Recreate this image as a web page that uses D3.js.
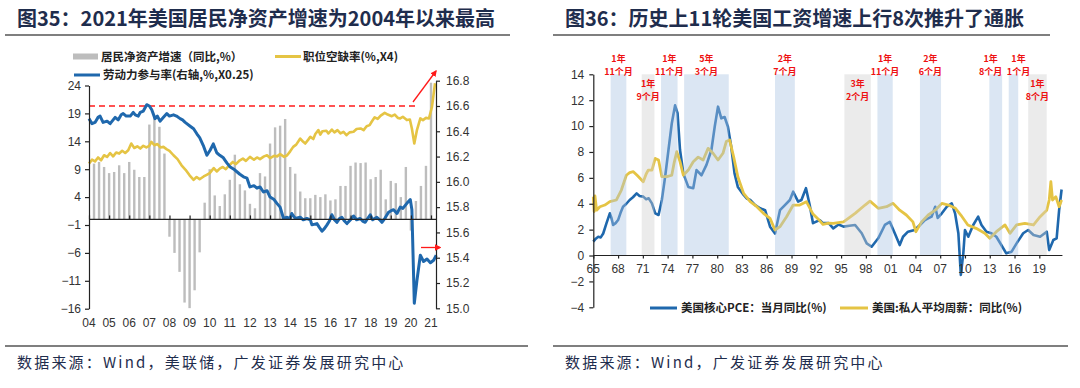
<!DOCTYPE html>
<html>
<head>
<meta charset="utf-8">
<script src="https://cdn.jsdelivr.net/npm/d3@7"></script>
<style>
  body { margin: 0; background: #fff; }
  svg { display: block; }
</style>
</head>
<body>
<svg id="chart" width="1080" height="388"></svg>
<script>
// ---------- left chart data (图35) ----------
// quarterly net worth growth, 2004Q1 .. 2020Q4 (%, yoy)
const netWorthGrowth = [
  10.0, 10.3, 9.4, 8.3, 8.5, 9.7, 8.3, 10.3, 8.9, 7.6, 7.6,
  17.0, 18.2, 16.6, 11.8,
  -3.1, -6.0, -9.4, -14.9, -15.9, -12.7, -5.9,
  3.0, 9.0, 4.3, 2.4, 4.5, 7.1, 11.6, 6.3, 5.2,
  2.8, 2.0, 8.3, 7.7, 13.6, 16.5, 16.8, 18.0,
  9.4, 8.2, 5.0, 3.8, 3.8, 4.4, 4.0, 4.5, 3.4, 3.6, 6.0, 6.0,
  9.6, 10.2, 10.1, 10.2, 7.2, 7.6, 8.9, 3.6, 6.9, 6.5, 4.0, 9.4,
  -2.0, 3.3, 6.0, 9.6, 24.5
];
const netWorthFirstQuarterEnd = 2004.25;

// job openings rate x4 (left axis) [year, value]
const vacancyX4 = [
  [2004.0, 10.0], [2004.15, 10.7], [2004.3, 10.4], [2004.45, 11.1], [2004.6, 10.6], [2004.75, 11.5],
  [2004.9, 11.2], [2005.05, 11.9], [2005.2, 11.3], [2005.35, 12.0], [2005.5, 11.8], [2005.65, 12.3],
  [2005.8, 11.9], [2005.95, 12.4], [2006.1, 13.6], [2006.25, 12.8], [2006.4, 13.1], [2006.55, 12.7],
  [2006.7, 13.2], [2006.85, 12.9], [2007.0, 13.2], [2007.1, 13.9], [2007.25, 13.3], [2007.4, 13.5],
  [2007.55, 12.9], [2007.7, 13.0], [2007.85, 12.6], [2008.0, 12.3], [2008.2, 11.5], [2008.4, 10.8],
  [2008.6, 9.7], [2008.8, 8.9], [2009.0, 7.9], [2009.2, 7.1], [2009.35, 7.6], [2009.5, 7.2],
  [2009.7, 7.7], [2009.85, 8.0], [2010.0, 8.3], [2010.2, 9.2], [2010.35, 8.6], [2010.5, 9.1],
  [2010.65, 9.4], [2010.8, 9.0], [2011.0, 9.8], [2011.15, 10.3], [2011.3, 9.9], [2011.5, 10.6],
  [2011.65, 10.9], [2011.8, 10.5], [2012.0, 11.2], [2012.2, 10.7], [2012.35, 11.1], [2012.5, 10.8],
  [2012.7, 11.3], [2012.85, 11.5], [2013.0, 11.0], [2013.2, 11.4], [2013.35, 11.3], [2013.5, 11.7],
  [2013.7, 11.2], [2013.85, 11.5], [2014.0, 12.2], [2014.15, 13.0], [2014.3, 13.4], [2014.5, 14.5],
  [2014.65, 13.9], [2014.75, 13.6], [2014.9, 14.3], [2015.0, 14.8], [2015.15, 14.4], [2015.25, 15.3],
  [2015.4, 16.0], [2015.5, 15.2], [2015.6, 15.8], [2015.8, 15.9], [2015.9, 15.4], [2016.07, 16.1],
  [2016.2, 15.6], [2016.35, 16.0], [2016.5, 15.4], [2016.65, 15.7], [2016.8, 15.1], [2016.95, 15.6],
  [2017.15, 15.7], [2017.3, 16.2], [2017.5, 16.3], [2017.65, 16.0], [2017.8, 16.7], [2017.95, 16.9],
  [2018.05, 17.5], [2018.2, 18.3], [2018.35, 18.0], [2018.5, 18.6], [2018.7, 19.1], [2018.85, 18.8],
  [2019.05, 18.5], [2019.2, 18.8], [2019.35, 18.2], [2019.47, 18.1], [2019.6, 18.4], [2019.8, 17.8],
  [2019.95, 17.9], [2020.05, 16.3], [2020.17, 13.6], [2020.3, 16.0], [2020.47, 18.1], [2020.6, 17.8],
  [2020.75, 18.2], [2020.9, 18.1], [2021.05, 20.2], [2021.2, 24.4]
];

// labour force participation rate x0.25 (right axis) [year, value]
const lfprX025 = [
  [2004.0, 16.50], [2004.15, 16.46], [2004.3, 16.47], [2004.45, 16.51], [2004.55, 16.52], [2004.7, 16.47],
  [2004.9, 16.48], [2005.05, 16.46], [2005.2, 16.49], [2005.3, 16.51], [2005.45, 16.49], [2005.6, 16.53],
  [2005.7, 16.54], [2005.85, 16.52], [2006.05, 16.52], [2006.2, 16.55], [2006.3, 16.53], [2006.45, 16.52],
  [2006.55, 16.55], [2006.7, 16.56], [2006.87, 16.61], [2007.0, 16.60], [2007.12, 16.57], [2007.28, 16.50],
  [2007.4, 16.52], [2007.53, 16.48], [2007.7, 16.51], [2007.87, 16.54], [2008.0, 16.52], [2008.2, 16.53],
  [2008.35, 16.52], [2008.53, 16.50], [2008.65, 16.49], [2008.78, 16.47], [2009.03, 16.44], [2009.2, 16.42],
  [2009.36, 16.38], [2009.5, 16.35], [2009.7, 16.28], [2009.86, 16.21], [2010.02, 16.25], [2010.18, 16.30],
  [2010.35, 16.23], [2010.5, 16.21], [2010.68, 16.19], [2010.85, 16.15], [2011.0, 16.12], [2011.2, 16.10],
  [2011.35, 16.08], [2011.5, 16.06], [2011.68, 16.04], [2011.85, 16.03], [2012.0, 15.96], [2012.2, 15.97],
  [2012.35, 15.95], [2012.5, 15.96], [2012.67, 15.92], [2012.85, 15.93], [2013.0, 15.88], [2013.2, 15.86],
  [2013.34, 15.83], [2013.5, 15.80], [2013.67, 15.71], [2013.85, 15.72], [2014.0, 15.71], [2014.08, 15.75],
  [2014.25, 15.71], [2014.5, 15.72], [2014.65, 15.70], [2014.83, 15.71], [2015.0, 15.70], [2015.08, 15.66],
  [2015.33, 15.67], [2015.45, 15.64], [2015.58, 15.61], [2015.7, 15.63], [2015.83, 15.66], [2015.95, 15.69],
  [2016.07, 15.74], [2016.2, 15.70], [2016.32, 15.68], [2016.45, 15.71], [2016.57, 15.72], [2016.7, 15.69],
  [2016.82, 15.67], [2017.0, 15.70], [2017.15, 15.73], [2017.3, 15.70], [2017.48, 15.71], [2017.6, 15.69],
  [2017.73, 15.68], [2017.85, 15.71], [2017.98, 15.74], [2018.1, 15.70], [2018.31, 15.72], [2018.45, 15.70],
  [2018.56, 15.68], [2018.7, 15.71], [2018.89, 15.76], [2019.0, 15.77], [2019.14, 15.78], [2019.31, 15.75],
  [2019.47, 15.80], [2019.6, 15.79], [2019.8, 15.83], [2019.97, 15.86], [2020.05, 15.78], [2020.17, 15.04],
  [2020.3, 15.22], [2020.47, 15.42], [2020.63, 15.37], [2020.8, 15.39], [2020.97, 15.36], [2021.13, 15.38],
  [2021.26, 15.42]
];

const leftYearTicks = [2004, 2005, 2006, 2007, 2008, 2009, 2010, 2011, 2012, 2013, 2014, 2015, 2016, 2017, 2018, 2019, 2020, 2021];
const leftYTicks = [24, 19, 14, 9, 4, -1, -6, -11, -16];
const rightYTicks = [16.8, 16.6, 16.4, 16.2, 16.0, 15.8, 15.6, 15.4, 15.2, 15.0];

// ---------- right chart data (图36) ----------
// US core PCE yoy (%) [year, value]
const corePce = [
  [1965.0, 1.07], [1965.3, 1.3], [1965.6, 1.45], [1965.9, 1.4], [1966.2, 1.7], [1966.6, 2.5], [1967.0, 3.26],
  [1967.2, 2.9], [1967.4, 2.36], [1967.7, 2.5], [1968.0, 2.74], [1968.3, 3.3], [1968.6, 3.77], [1969.0, 4.0],
  [1969.4, 4.29], [1969.8, 4.5], [1970.25, 4.8], [1970.6, 4.6], [1971.05, 4.55], [1971.4, 4.35], [1971.7, 4.42],
  [1972.1, 4.03], [1972.5, 3.26], [1972.9, 3.13], [1973.3, 4.29], [1973.7, 6.09], [1974.1, 8.15], [1974.5, 10.2],
  [1974.9, 11.6], [1975.2, 11.0], [1975.5, 8.15], [1975.9, 6.35], [1976.5, 5.3], [1977.1, 5.2], [1977.5, 6.6],
  [1978.1, 6.2], [1978.7, 7.0], [1979.3, 8.15], [1979.7, 9.95], [1980.1, 11.5], [1980.5, 10.6], [1980.9, 10.7],
  [1981.3, 9.95], [1981.7, 8.4], [1982.1, 6.35], [1982.5, 5.3], [1983.2, 4.68], [1983.6, 4.4], [1984.0, 4.29],
  [1984.6, 3.9], [1985.2, 3.65], [1985.8, 3.5], [1986.4, 2.23], [1987.0, 1.7], [1987.6, 3.5], [1988.2, 3.9],
  [1988.8, 4.29], [1989.2, 4.93], [1989.8, 4.16], [1990.2, 4.29], [1990.75, 5.2], [1991.2, 3.9], [1991.6, 2.5],
  [1992.4, 2.74], [1992.8, 2.5], [1993.5, 2.5], [1994.05, 2.1], [1994.7, 2.4], [1995.3, 2.23], [1996.0, 2.3],
  [1996.7, 2.36], [1997.5, 1.72], [1998.1, 0.94], [1998.7, 0.68], [1999.5, 1.33], [2000.3, 2.36], [2000.9, 2.6],
  [2001.5, 1.72], [2002.1, 0.81], [2002.5, 1.45], [2003.1, 1.84], [2003.9, 1.97], [2004.55, 2.36], [2005.15, 2.74],
  [2005.95, 3.0], [2006.4, 3.77], [2006.7, 2.9], [2007.2, 3.26], [2007.8, 3.77], [2008.4, 4.03], [2008.8, 3.26],
  [2009.2, 1.72], [2009.5, -1.5], [2009.8, 0.17], [2010.0, 1.97], [2010.4, 1.45], [2011.0, 2.36], [2011.6, 3.0],
  [2012.0, 2.36], [2012.6, 1.84], [2013.2, 1.72], [2013.8, 1.45], [2014.4, 0.81], [2015.0, 0.17], [2015.65, 0.3],
  [2016.25, 0.94], [2017.05, 1.72], [2017.65, 1.97], [2018.3, 1.58], [2019.1, 1.45], [2019.9, 1.84], [2020.2, 0.42],
  [2020.7, 1.2], [2021.1, 1.33], [2021.4, 3.5], [2021.7, 5.1]
];

// US private average weekly earnings yoy (%) [year, value]
const weeklyWage = [
  [1965.0, 4.55], [1965.1, 3.4], [1965.2, 4.6], [1965.4, 3.5], [1965.8, 3.77], [1966.4, 3.9], [1967.0, 4.16],
  [1967.8, 4.29], [1968.4, 5.06], [1969.0, 6.2], [1969.4, 6.4], [1969.85, 6.48], [1970.3, 6.2], [1970.65, 5.97],
  [1971.05, 5.7], [1971.4, 6.3], [1971.65, 6.6], [1972.1, 6.6], [1972.5, 7.5], [1972.9, 7.38], [1973.3, 6.09],
  [1973.9, 6.09], [1974.5, 6.2], [1974.8, 7.2], [1975.1, 8.02], [1975.5, 7.25], [1975.9, 6.2], [1976.5, 6.6],
  [1977.1, 7.25], [1977.7, 7.6], [1978.3, 7.38], [1978.9, 8.28], [1979.5, 7.9], [1980.1, 7.38], [1980.7, 7.9],
  [1981.1, 8.8], [1981.5, 8.93], [1982.0, 7.6], [1982.5, 6.09], [1983.2, 4.8], [1984.0, 4.16], [1984.8, 3.77],
  [1985.6, 3.26], [1986.4, 2.87], [1987.0, 1.97], [1987.6, 2.23], [1988.4, 3.0], [1989.2, 3.9], [1990.0, 3.9],
  [1990.8, 4.16], [1991.6, 3.2], [1992.4, 2.7], [1992.8, 2.4], [1993.5, 2.5], [1994.05, 2.49], [1995.3, 2.6],
  [1996.7, 3.26], [1997.9, 3.9], [1998.5, 4.2], [1999.5, 3.65], [2000.5, 3.77], [2001.3, 4.03], [2002.1, 3.5],
  [2002.9, 3.13], [2003.7, 2.6], [2004.05, 1.84], [2004.75, 2.6], [2005.55, 3.13], [2006.4, 3.5], [2007.2, 4.03],
  [2008.0, 3.9], [2008.85, 3.65], [2009.5, 3.13], [2010.35, 2.36], [2011.35, 2.1], [2012.4, 1.72], [2013.0, 1.33],
  [2013.8, 1.84], [2014.85, 2.36], [2015.45, 1.72], [2016.25, 2.36], [2017.25, 2.49], [2018.3, 2.36], [2019.1, 3.0],
  [2019.9, 3.5], [2020.2, 4.29], [2020.4, 5.7], [2020.6, 4.29], [2021.0, 4.55], [2021.4, 3.77], [2021.7, 4.29]
];

// wage up-cycles (shaded)
const cycleStart = [1967.1, 1970.86, 1973.2, 1976.0, 1987.0, 1995.4, 1999.4, 2004.55, 2012.95, 2015.3, 2017.66];
const cycleEnd   = [1969.0, 1972.4, 1975.2, 1981.4, 1989.4, 1998.6, 2001.25, 2007.1, 2014.5, 2016.45, 2019.9];
const cycleNoInflation = [false, true, false, false, false, true, false, false, false, false, true];
const cycleYears  = ["1年", "1年", "1年", "5年", "2年", "3年", "1年", "2年", "1年", "1年", "1年"];
const cycleMonths = ["11个月", "9个月", "11个月", "3个月", "7个月", "2个月", "11个月", "6个月", "8个月", "1个月", "8个月"];

const rightXTicks = [1965, 1968, 1971, 1974, 1977, 1980, 1983, 1986, 1989, 1992, 1995, 1998, 2001, 2004, 2007, 2010, 2013, 2016, 2019];
const rightYTicksR = [14, 12, 10, 8, 6, 4, 2, 0, -2, -4];

// ---------- shared styling ----------
const NUM_FONT = "'Liberation Sans', Arial, sans-serif";
const CJK_FONT = "'Noto Sans CJK SC', 'Noto Sans', sans-serif";
const TITLE_COLOR = "#1f2d4d";
const BLUE = "#1f68ad";
const GOLD = "#e5c444";

const svg = d3.select("#chart");
svg.append("rect").attr("width", 1080).attr("height", 388).attr("fill", "#fff");

function yearLabel(y) {
  return String(y % 100).padStart(2, "0");
}

function styleAxis(g) {
  g.selectAll("path, line").attr("stroke", "#222").attr("stroke-width", 1.2);
  g.selectAll("text").attr("font-family", NUM_FONT).attr("font-size", 12).attr("fill", "#333");
}

// header / footer for one panel
function drawFrame(x0, x1, title, source) {
  svg.append("text")
    .attr("x", x0 + 12).attr("y", 26)
    .attr("font-family", CJK_FONT).attr("font-weight", "bold")
    .attr("font-size", 20).attr("fill", TITLE_COLOR)
    .text(title);
  svg.append("line")
    .attr("x1", x0).attr("x2", x1).attr("y1", 35).attr("y2", 35)
    .attr("stroke", "#555").attr("stroke-width", 1.5);
  svg.append("line")
    .attr("x1", x0).attr("x2", x1 + 18).attr("y1", 346).attr("y2", 346)
    .attr("stroke", "#555").attr("stroke-width", 1.5);
  svg.append("text")
    .attr("x", x0 + 12).attr("y", 368)
    .attr("font-family", CJK_FONT).attr("font-size", 15)
    .attr("fill", TITLE_COLOR).attr("letter-spacing", 2.2)
    .text(source);
}

// ---------- left chart ----------
function drawLeft() {
  drawFrame(5, 510, "图35：2021年美国居民净资产增速为2004年以来最高", "数据来源：Wind，美联储，广发证券发展研究中心");

  const x = d3.scaleLinear().domain([2004, 2021]).range([89, 431]);
  const yL = d3.scaleLinear().domain([-16, 24]).range([308.7, 85.5]);
  const yR = d3.scaleLinear().domain([15.0, 16.8]).range([308.3, 80.7]);

  // bars
  svg.append("g").selectAll("rect")
    .data(netWorthGrowth)
    .enter()
    .append("rect")
    .attr("x", (d, i) => x(netWorthFirstQuarterEnd + i * 0.25) - 1.2)
    .attr("width", 2.4)
    .attr("y", d => yL(Math.max(0, d)))
    .attr("height", d => Math.abs(yL(d) - yL(0)))
    .attr("fill", "#bdbdbd");

  // red dashed reference
  svg.append("line")
    .attr("x1", x(2004)).attr("x2", 419)
    .attr("y1", yR(16.6)).attr("y2", yR(16.6))
    .attr("stroke", "#ff1a1a").attr("stroke-width", 1.3)
    .attr("stroke-dasharray", "6,4");

  const lineL = d3.line().x(d => x(d[0])).y(d => yL(d[1]));
  const lineR = d3.line().x(d => x(d[0])).y(d => yR(d[1]));

  svg.append("path").datum(vacancyX4)
    .attr("d", lineL).attr("fill", "none")
    .attr("stroke", GOLD).attr("stroke-width", 2.6).attr("stroke-linejoin", "round");

  svg.append("path").datum(lfprX025)
    .attr("d", lineR).attr("fill", "none")
    .attr("stroke", BLUE).attr("stroke-width", 3).attr("stroke-linejoin", "round");

  // axes
  const gy = svg.append("g").attr("transform", "translate(89,0)")
    .call(d3.axisLeft(yL).tickValues(leftYTicks).tickSize(4).tickSizeOuter(0).tickPadding(4));
  styleAxis(gy);

  const gr = svg.append("g").attr("transform", "translate(436,0)")
    .call(d3.axisRight(yR).tickValues(rightYTicks).tickSize(4).tickSizeOuter(0)
      .tickPadding(6).tickFormat(d3.format(".1f")));
  styleAxis(gr);

  const gx = svg.append("g").attr("transform", `translate(0,${yL(0)})`)
    .call(d3.axisTop(x).tickValues(leftYearTicks).tickSize(4).tickSizeOuter(0).tickFormat(""));
  styleAxis(gx);
  gx.select(".domain").attr("d", `M89,0H436`);

  svg.append("g").selectAll("text")
    .data(leftYearTicks)
    .enter()
    .append("text")
    .attr("x", d => x(d)).attr("y", 327)
    .attr("text-anchor", "middle")
    .attr("font-family", NUM_FONT).attr("font-size", 12).attr("fill", "#333")
    .text(yearLabel);

  // red arrows
  const defs = svg.append("defs");
  defs.append("marker")
    .attr("id", "redHead").attr("viewBox", "0 0 10 10")
    .attr("refX", 8).attr("refY", 5)
    .attr("markerWidth", 5).attr("markerHeight", 5)
    .attr("orient", "auto")
    .append("path").attr("d", "M0,0L10,5L0,10Z").attr("fill", "#ff1a1a");

  svg.append("line")
    .attr("x1", 413).attr("y1", 102).attr("x2", 436).attr("y2", 71)
    .attr("stroke", "#ff1a1a").attr("stroke-width", 1.3)
    .attr("marker-end", "url(#redHead)");
  svg.append("line")
    .attr("x1", 421).attr("y1", 247.5).attr("x2", 440).attr("y2", 247.5)
    .attr("stroke", "#ff1a1a").attr("stroke-width", 1.3)
    .attr("marker-end", "url(#redHead)");

  // legend
  const lg = svg.append("g")
    .attr("font-family", CJK_FONT).attr("font-size", 11.5)
    .attr("font-weight", "bold").attr("fill", "#222");
  lg.append("rect").attr("x", 73).attr("y", 53.5).attr("width", 25).attr("height", 6).attr("fill", "#bdbdbd");
  lg.append("text").attr("x", 101).attr("y", 60.5).text("居民净资产增速（同比,%）");
  lg.append("line").attr("x1", 275).attr("x2", 301).attr("y1", 56.5).attr("y2", 56.5)
    .attr("stroke", GOLD).attr("stroke-width", 3);
  lg.append("text").attr("x", 303).attr("y", 60.5).text("职位空缺率(%,X4)");
  lg.append("line").attr("x1", 74).attr("x2", 100).attr("y1", 75).attr("y2", 75)
    .attr("stroke", BLUE).attr("stroke-width", 3);
  lg.append("text").attr("x", 103).attr("y", 79).text("劳动力参与率(右轴,%,X0.25)");
}

// ---------- right chart ----------
function drawRight() {
  drawFrame(553, 1050, "图36：历史上11轮美国工资增速上行8次推升了通胀", "数据来源：Wind，广发证券发展研究中心");

  const x = d3.scaleLinear().domain([1965, 2019]).range([593.3, 1039.3]);
  const y = d3.scaleLinear().domain([-4, 14]).range([307.3, 74.3]);

  const line = d3.line().x(d => x(d[0])).y(d => y(d[1]));

  svg.append("path").datum(corePce)
    .attr("d", line).attr("fill", "none")
    .attr("stroke", BLUE).attr("stroke-width", 2.6).attr("stroke-linejoin", "round");
  svg.append("path").datum(weeklyWage)
    .attr("d", line).attr("fill", "none")
    .attr("stroke", GOLD).attr("stroke-width", 2.8).attr("stroke-linejoin", "round");

  // shaded cycles drawn on top (translucent, like the source)
  const cycles = cycleStart.map((s, i) => ({
    start: s, end: cycleEnd[i], gray: cycleNoInflation[i],
    years: cycleYears[i], months: cycleMonths[i]
  }));
  svg.append("g").selectAll("rect")
    .data(cycles)
    .enter()
    .append("rect")
    .attr("x", d => x(d.start))
    .attr("width", d => x(d.end) - x(d.start))
    .attr("y", y(14))
    .attr("height", y(0) - y(14))
    .attr("fill", d => d.gray ? "#cfcfcf" : "#a9c3e3")
    .attr("fill-opacity", 0.42);

  // two-line red labels; nudges keep neighbours apart
  const nudge = { 8: -5, 9: 5 };
  const lab = svg.append("g")
    .attr("font-family", CJK_FONT).attr("font-size", 9)
    .attr("font-weight", "bold").attr("fill", "#ee1111")
    .attr("text-anchor", "middle");
  cycles.forEach((d, i) => {
    const cx = (x(d.start) + x(d.end)) / 2 + (nudge[i] || 0);
    const top = d.gray ? 87 : 62;
    lab.append("text").attr("x", cx).attr("y", top).text(d.years);
    lab.append("text").attr("x", cx).attr("y", top + 13.4).text(d.months);
  });

  // axes
  const gy = svg.append("g").attr("transform", `translate(${x(1965)},0)`)
    .call(d3.axisLeft(y).tickValues(rightYTicksR).tickSize(4).tickSizeOuter(0).tickPadding(5));
  styleAxis(gy);

  const gx = svg.append("g").attr("transform", `translate(0,${y(0)})`)
    .call(d3.axisBottom(x).tickValues(rightXTicks).tickSize(3).tickSizeOuter(0).tickFormat(""));
  styleAxis(gx);
  gx.select(".domain").attr("d", `M${x(1965)},0H${x(2021.8)}`);

  svg.append("g").selectAll("text")
    .data(rightXTicks)
    .enter()
    .append("text")
    .attr("x", d => x(d)).attr("y", 273)
    .attr("text-anchor", "middle")
    .attr("font-family", NUM_FONT).attr("font-size", 12).attr("fill", "#333")
    .text(yearLabel);

  // legend
  const lg = svg.append("g")
    .attr("font-family", CJK_FONT).attr("font-size", 11.5)
    .attr("font-weight", "bold").attr("fill", "#222");
  lg.append("line").attr("x1", 650).attr("x2", 677).attr("y1", 308).attr("y2", 308)
    .attr("stroke", BLUE).attr("stroke-width", 3);
  lg.append("text").attr("x", 681).attr("y", 312).text("美国核心PCE：当月同比(%)");
  lg.append("line").attr("x1", 840).attr("x2", 868).attr("y1", 308).attr("y2", 308)
    .attr("stroke", GOLD).attr("stroke-width", 3);
  lg.append("text").attr("x", 872).attr("y", 312).text("美国:私人平均周薪：同比(%)");
}

drawLeft();
drawRight();
</script>
</body>
</html>
